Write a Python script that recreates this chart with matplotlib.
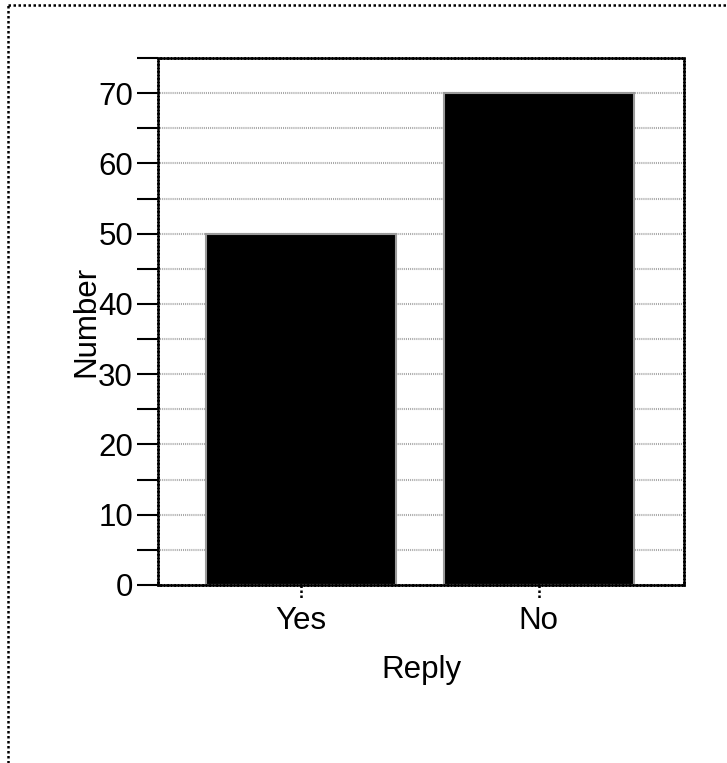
import matplotlib
matplotlib.use("Agg")
import matplotlib.pyplot as plt
from matplotlib.lines import Line2D
from matplotlib.ticker import MultipleLocator

categories = ["Yes", "No"]
counts = [50, 70]

plt.rcParams['font.family'] = ['Liberation Sans', 'DejaVu Sans']

W, H = 727, 763
fig = plt.figure(figsize=(W / 100, H / 100), dpi=100)
ax = fig.add_axes([158 / W, 1 - 585 / H, (684 - 158) / W, (585 - 58) / H])

dot = (0, (0.7, 0.7))
big_dot = (0, (1, 1))
x = range(len(categories))
ax.bar(x, counts, width=0.8, color="black", edgecolor="#9a9a9a", linewidth=1.5, zorder=3)

ax.set_xlim(-0.6, 1.61)
ax.set_ylim(0, 75)
ax.yaxis.set_major_locator(MultipleLocator(10))
ax.yaxis.set_minor_locator(MultipleLocator(5))
ax.grid(axis="y", which="both", color="#a8a8a8", linestyle=(0, (0.5, 0.5)), linewidth=1.5, zorder=1)
ax.set_axisbelow(True)

for s in ax.spines.values():
    s.set_linestyle(dot)
    s.set_linewidth(1.8)
    s.set_color("black")
    s.set_zorder(4)

ax.tick_params(axis="y", which="both", length=15, width=1.5, direction="out",
               labelsize=22.5, pad=3, color="black")
ax.set_xticks(list(x))
ax.set_xticklabels(categories)
ax.tick_params(axis="x", length=0, labelsize=22.5, pad=15)

# dotted category tick marks below the axis
tr = ax.get_xaxis_transform()
for xi in x:
    ax.add_line(Line2D([xi, xi], [0, -0.025], transform=tr, color="black",
                       linestyle=big_dot, linewidth=1.8, clip_on=False))

ax.set_ylabel("Number", fontsize=22.5, labelpad=-2)
ax.set_xlabel("Reply", fontsize=22.5, labelpad=14)

# dotted frame around figure (left and top visible)
fig.add_artist(Line2D([8 / W, 8 / W], [0, 1 - 5 / H], color="black", linestyle=big_dot, linewidth=1.8))
fig.add_artist(Line2D([8 / W, 1], [1 - 5 / H, 1 - 5 / H], color="black", linestyle=big_dot, linewidth=1.8))

fig.savefig("out.png", dpi=100)
